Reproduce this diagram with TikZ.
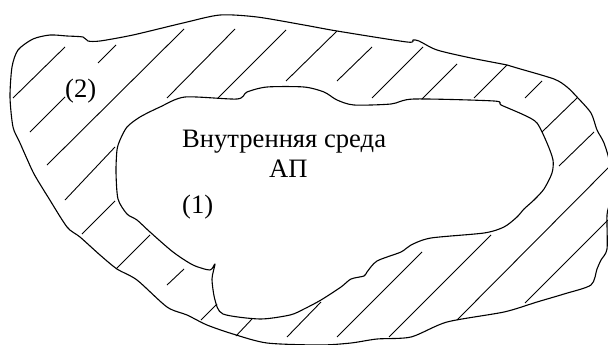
\documentclass[tikz,border=0pt]{standalone}
\usepackage{fontspec}
\setmainfont{Liberation Serif}
\begin{document}
\begin{tikzpicture}[x=1pt,y=-1pt,
  contour/.style={line width=1.1pt, line join=round},
  hatch/.style={line width=0.9pt},
  lbl/.style={anchor=base west, inner sep=0pt, font=\fontsize{26.6}{28}\selectfont}]
\useasboundingbox (0,0) rectangle (608,345);
\clip (0,0) rectangle (608,345);
% outer contour
\draw[contour] plot[smooth cycle, tension=0.45] coordinates {
 (18,50) (33,39) (50,35) (67,36) (83,37) (88,41) (100,41) (133,35) (183,23)
 (220,15) (257,17) (304,25) (337,31) (407,42) (413,40) (419,41) (437,50)
 (471,58) (507,65) (517,68) (554,79) (567,87) (577,97) (591,113) (597,130)
 (604,143) (610,165) (610,200) (607,215) (607,249) (601,260) (597,269)
 (591,285) (564,294) (537,302) (504,312) (447,322) (411,337) (377,339)
 (351,343) (320,345) (267,343) (233,334) (207,325) (187,315) (167,307)
 (137,280) (117,269) (100,255) (80,237) (67,227) (48,197) (43,189) (33,172)
 (20,143) (13,127) (10,97) (12,67)};
% inner contour
\draw[contour] plot[smooth cycle, tension=0.45] coordinates {
 (185,97) (237,99) (247,92) (267,87) (304,87) (324,92) (337,100) (354,105)
 (391,104) (414,99) (494,101) (501,105) (524,115) (537,123) (547,143)
 (553,160) (552,173) (544,189) (534,200) (524,209) (517,217) (504,227)
 (484,233) (431,238) (411,245) (401,252) (377,261) (367,272) (364,276)
 (351,279) (341,287) (321,300) (304,309) (290,315) (260,319) (223,314)
 (215,300) (212,279) (215,264) (210,270) (193,265) (173,252) (150,232)
 (137,220) (127,214) (118,199) (116,172) (117,150) (120,140) (127,127)
 (140,117) (160,107)};
% hatching
\foreach \a/\b/\c/\d in {
 13/98/65/47, 30/132/65/97, 98/63/116/45, 47/165/184/29, 167/98/235/29,
 218/98/286/30, 286/81/337/31, 337/81/372/47, 372/98/423/47, 422/99/457/64,
 474/98/507/65, 525/98/542/81, 542/132/577/98, 559/166/594/132,
 457/320/610/166, 525/303/610/218, 389/337/491/235, 337/337/422/252,
 287/337/321/302, 236/336/252/319, 201/320/217/304, 167/285/184/269,
 116/269/150/235, 82/234/115/201, 65/200/115/147}
 \draw[hatch] (\a,\b) -- (\c,\d);
% labels
\node[lbl] (inner) at (182,147) {Внутренняя среда};
\node[lbl] (ap) at (269,177) {АП};
\node[lbl] (one) at (182,213) {(1)};
\node[lbl] (two) at (65,98) {(2)};
\end{tikzpicture}
\end{document}
